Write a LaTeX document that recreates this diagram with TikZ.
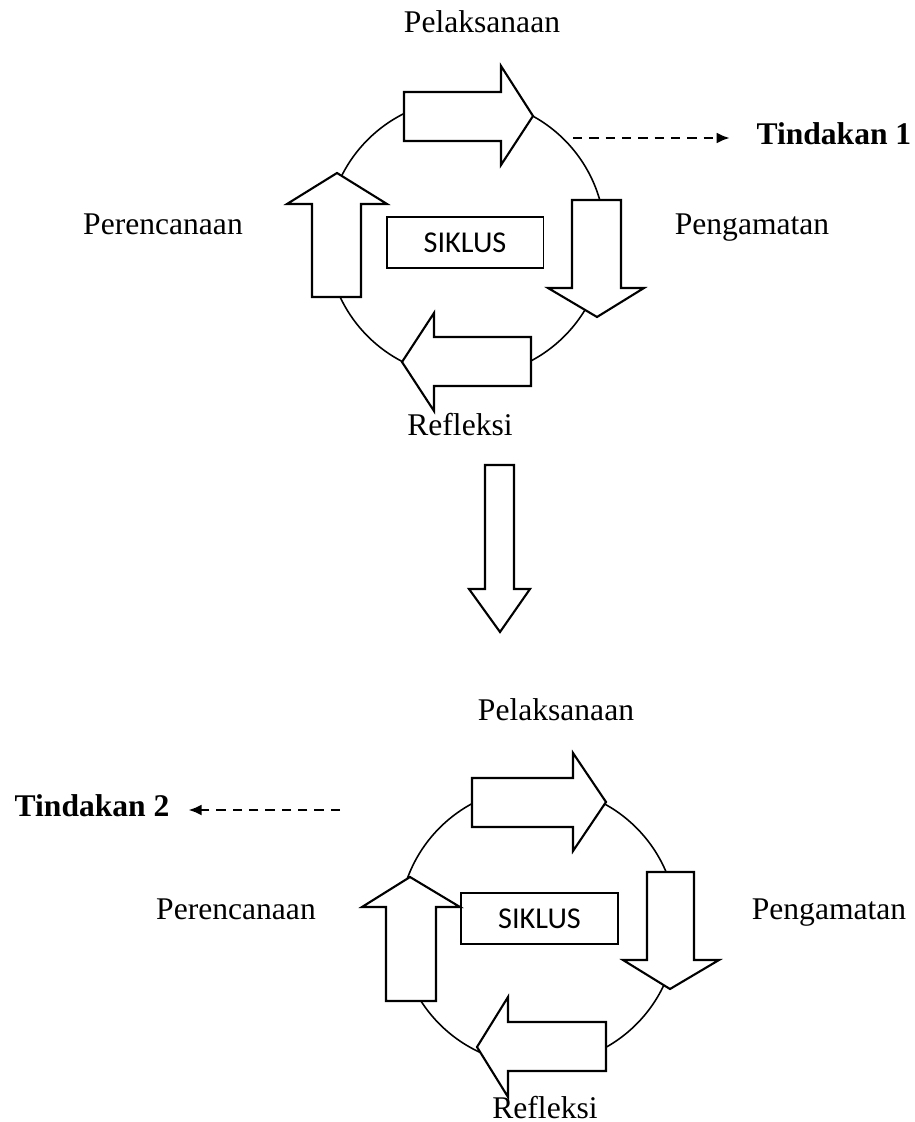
\documentclass[tikz,border=0pt]{standalone}
\usepackage{fontspec}
\usetikzlibrary{arrows.meta}
\setmainfont{Liberation Serif}
\newfontfamily\calibri{Carlito}

\begin{document}
\begin{tikzpicture}[x=0.38pt, y=-0.38pt, inner sep=0pt,
    ring/.style={line width=0.6pt},
    blockarrow/.style={draw, fill=white, line width=0.8pt, line join=miter},
    box/.style={draw, line width=0.6pt, minimum width=59.5pt, minimum height=19.4pt,
                font=\calibri\fontsize{11.5}{13}\selectfont},
    lbl/.style={anchor=base, font=\fontsize{12}{14}\selectfont},
    tind/.style={font=\bfseries\fontsize{12}{14}\selectfont},
    dasharrow/.style={line width=0.9pt, dash pattern=on 3.6pt off 2.6pt,
                      -{Latex[length=5pt,width=4.2pt]}}]
  \useasboundingbox (0,0) rectangle (914,1122);

  % first cycle
  \draw[ring] (466,238) circle [radius=139*0.38pt];
  \draw[blockarrow] (404,92) -- (501,92) -- (501,66) -- (533,116)
        -- (501,165) -- (501,141) -- (404,141) -- cycle;
  \draw[blockarrow] (572,200) -- (621,200) -- (621,288) -- (644,288)
        -- (597,317) -- (548,288) -- (572,288) -- cycle;
  \draw[blockarrow] (531,337) -- (531,386) -- (434,386) -- (434,411)
        -- (402,362) -- (434,313) -- (434,337) -- cycle;
  \draw[blockarrow] (312,297) -- (312,204) -- (287,204) -- (337,173)
        -- (387,204) -- (361,204) -- (361,297) -- cycle;
  \path node (S1) at (465,242.5) [box] {SIKLUS}
        node (P1) at (482,33)  [lbl] {Pelaksanaan}
        node (R1) at (163,235) [lbl] {Perencanaan}
        node (G1) at (752,235) [lbl] {Pengamatan}
        node (F1) at (460,436) [lbl] {Refleksi}
        node (T1) at (756,145) [tind, anchor=base west] {Tindakan 1};
  \coordinate (d1) at (573,138);
  \draw[dasharrow] (d1) -- ([xshift=-10pt]d1 -| T1.west);

  % between the cycles
  \draw[blockarrow] (485,465) -- (514,465) -- (514,589) -- (530,589)
        -- (500,632) -- (469,589) -- (485,589) -- cycle;

  % second cycle
  \draw[ring] (538,926) circle [radius=139*0.38pt];
  \draw[blockarrow] (472,778) -- (573,778) -- (573,753) -- (606,802)
        -- (573,851) -- (573,827) -- (472,827) -- cycle;
  \draw[blockarrow] (647,872) -- (694,872) -- (694,960) -- (719,960)
        -- (670,989) -- (623,960) -- (647,960) -- cycle;
  \draw[blockarrow] (606,1022) -- (606,1071) -- (508,1071) -- (508,1097)
        -- (477,1047) -- (508,997) -- (508,1022) -- cycle;
  \draw[blockarrow] (386,1001) -- (386,907) -- (362,907) -- (410,877)
        -- (460,907) -- (436,907) -- (436,1001) -- cycle;
  \path node (S2) at (539.5,918.5) [box] {SIKLUS}
        node (P2) at (556,720)  [lbl] {Pelaksanaan}
        node (R2) at (236,919)  [lbl] {Perencanaan}
        node (G2) at (829,919)  [lbl] {Pengamatan}
        node (F2) at (545,1118) [lbl] {Refleksi}
        node (T2) at (170,816)  [tind, anchor=base east] {Tindakan 2};
  \coordinate (d2) at (340,810);
  \draw[dasharrow] (d2) -- ([xshift=7pt]d2 -| T2.east);
\end{tikzpicture}
\end{document}
